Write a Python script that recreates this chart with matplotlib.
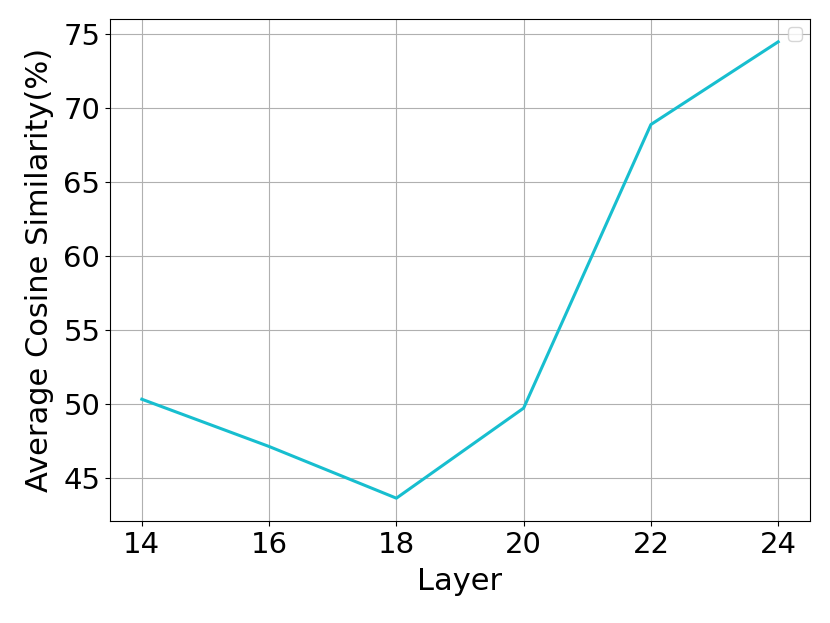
import matplotlib
matplotlib.use("Agg")
import matplotlib.pyplot as plt

layers = [14, 16, 18, 20, 22, 24]
similarity = [50.3, 47.1, 43.6, 49.7, 68.9, 74.5]

plt.rcParams['font.size'] = 21

fig = plt.figure(figsize=(8.3, 6.23), dpi=100)
ax = fig.add_axes([110 / 830, 1 - 521 / 623, 700 / 830, 502 / 623])
ax.plot(layers, similarity, color='tab:cyan', linewidth=2.2)
ax.set_xlabel('Layer', fontsize=22, labelpad=6)
ax.set_ylabel('Average Cosine Similarity(%)', fontsize=22, labelpad=7)
ax.set_xticks(layers)
ax.set_yticks([45, 50, 55, 60, 65, 70, 75])
ax.grid(True)
ax.legend(loc='upper right', fontsize=12)

fig.savefig('out.png', dpi=100)
